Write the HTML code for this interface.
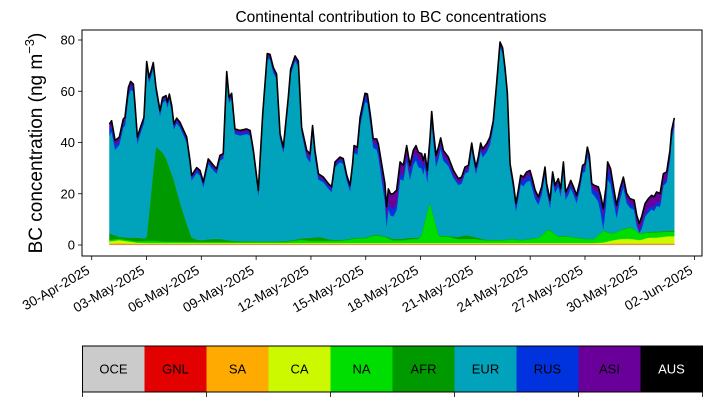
<!DOCTYPE html>
<html><head><meta charset="utf-8">
<style>
html,body{margin:0;padding:0;background:#fff;}
svg{display:block;font-family:"Liberation Sans","DejaVu Sans",sans-serif;}
</style></head>
<body>
<svg id="chart" width="711" height="402" viewBox="0 0 711 402" xmlns="http://www.w3.org/2000/svg">
<text x="391" y="22" font-size="15.5" text-anchor="middle">Continental contribution to BC concentrations</text>
<text transform="translate(42,143) rotate(-90)" font-size="19" text-anchor="middle">BC concentration (ng m<tspan dy="-8" font-size="13">−3</tspan><tspan dy="8">)</tspan></text>
<g id="plot"></g>
<g id="xaxis"></g>
<g id="yaxis"></g>
<rect x="82" y="30" width="620" height="226" fill="none" stroke="#000" stroke-width="1"/>
<g id="legend"></g>
</svg>
<script>
// ---- data ----
const totalDays = [0.97,1.09,1.28,1.51,1.73,1.82,2.01,2.13,2.28,2.37,2.50,2.64,2.86,3.01,3.14,3.25,3.37,3.52,3.74,3.88,4.07,4.14,4.25,4.38,4.50,4.65,4.83,5.20,5.38,5.47,5.75,5.93,6.11,6.38,6.66,6.84,7.02,7.20,7.39,7.52,7.66,7.84,8.12,8.48,8.67,8.85,9.12,9.36,9.61,9.76,9.94,10.12,10.31,10.49,10.76,10.89,11.13,11.31,11.49,11.77,11.95,12.09,12.22,12.41,12.68,12.95,13.13,13.32,13.59,13.77,13.96,14.14,14.28,14.36,14.54,14.69,14.96,15.09,15.27,15.41,15.60,15.69,15.87,16.05,16.14,16.24,16.36,16.51,16.69,16.88,17.06,17.24,17.42,17.60,17.75,17.88,18.06,18.15,18.24,18.37,18.52,18.61,18.70,18.85,18.98,19.10,19.25,19.52,19.80,20.07,20.25,20.43,20.62,20.80,20.89,21.03,21.16,21.29,21.40,21.62,21.80,21.98,22.16,22.35,22.49,22.62,22.75,22.90,23.08,23.22,23.35,23.48,23.63,23.81,23.99,24.14,24.27,24.45,24.63,24.81,24.90,25.09,25.23,25.36,25.45,25.54,25.67,25.82,25.94,26.09,26.22,26.37,26.54,26.73,26.87,27.00,27.13,27.24,27.37,27.50,27.73,27.86,28.00,28.15,28.24,28.40,28.59,28.73,28.92,29.10,29.28,29.46,29.69,29.83,29.97,30.10,30.29,30.47,30.65,30.78,30.92,31.11,31.29,31.47,31.65,31.74,31.89];
const totalVals = [47.2,48.5,40.8,42.1,49.2,49.8,61.5,63.8,62.8,55.0,42.1,45.3,49.8,71.6,65.4,67.9,71.2,61.5,52.4,57.6,58.3,55.7,58.9,54.4,47.2,49.5,47.9,42.1,33.0,27.2,30.2,29.1,24.6,33.6,31.1,29.8,35.0,35.6,67.7,57.6,59.2,45.3,44.7,45.3,44.7,36.9,21.4,51.1,74.7,74.4,69.3,66.7,43.4,38.2,57.6,68.6,73.8,71.8,45.9,36.9,35.6,46.6,36.9,27.8,26.5,24.0,22.7,32.4,34.3,33.7,27.2,23.3,31.7,38.8,38.2,49.8,59.2,58.9,49.8,41.4,41.4,39.4,31.7,24.0,15.0,21.9,19.9,20.1,21.4,32.4,31.1,38.8,31.1,36.9,38.8,36.2,35.6,33.0,35.6,29.1,42.1,52.1,44.7,35.0,38.2,41.8,36.9,34.3,29.1,25.9,26.5,30.4,31.1,39.8,35.6,30.4,34.3,39.8,37.5,39.5,42.1,48.5,62.8,79.2,77.0,69.3,59.5,31.7,24.0,16.2,21.4,27.2,26.5,28.5,29.1,25.2,21.4,18.8,22.7,30.4,24.0,17.5,28.5,23.3,24.6,25.9,22.0,32.4,20.7,22.7,25.2,22.7,19.4,25.2,31.1,31.7,38.2,35.0,24.0,23.3,22.7,19.4,14.2,22.7,32.4,29.8,21.4,15.5,22.0,26.5,20.1,18.1,17.5,11.7,8.4,11.0,16.2,18.1,19.4,18.8,20.7,20.1,27.8,28.5,36.9,44.7,49.6];
const compDays = [1,1.5,2,2.5,3,3.5,4,4.5,5,5.5,6,6.5,7,7.5,8,8.5,9,9.5,10,10.5,11,11.5,12,12.5,13,13.5,14,14.5,15,15.5,16,16.5,17,17.5,18,18.5,19,19.5,20,20.5,21,21.5,22,22.5,23,23.5,24,24.5,25,25.5,26,26.5,27,27.5,28,28.5,29,29.5,30,30.5,31,31.5,32];
const oceVals = [0.2,0.2,0.2,0.2,0.2,0.2,0.2,0.2,0.2,0.2,0.2,0.2,0.2,0.2,0.2,0.2,0.2,0.2,0.2,0.2,0.2,0.2,0.2,0.2,0.2,0.2,0.2,0.2,0.2,0.2,0.2,0.2,0.2,0.2,0.2,0.2,0.2,0.2,0.2,0.2,0.2,0.2,0.2,0.2,0.2,0.2,0.2,0.2,0.2,0.2,0.2,0.2,0.2,0.2,0.2,0.2,0.2,0.2,0.2,0.2,0.2,0.2,0.2];
const gnlVals = [0.1,0.1,0.1,0.1,0.1,0.1,0.1,0.1,0.1,0.1,0.1,0.1,0.1,0.1,0.1,0.1,0.1,0.1,0.1,0.1,0.1,0.1,0.1,0.1,0.1,0.1,0.1,0.1,0.1,0.1,0.1,0.1,0.1,0.1,0.1,0.1,0.1,0.1,0.1,0.1,0.1,0.1,0.1,0.1,0.1,0.1,0.1,0.1,0.1,0.1,0.1,0.1,0.1,0.1,0.1,0.1,0.1,0.1,0.1,0.1,0.1,0.1,0.1];
const saVals = [0.3,0.4,0.3,0.2,0.2,0.2,0.2,0.2,0.2,0.2,0.2,0.2,0.2,0.2,0.2,0.2,0.2,0.2,0.2,0.2,0.2,0.2,0.2,0.2,0.2,0.2,0.2,0.2,0.2,0.2,0.2,0.2,0.2,0.2,0.2,0.2,0.2,0.2,0.2,0.2,0.2,0.2,0.2,0.2,0.2,0.2,0.2,0.2,0.2,0.2,0.2,0.2,0.2,0.2,0.2,0.3,0.3,0.3,0.3,0.3,0.3,0.3,0.3];
const caVals = [0.8,1.2,0.8,0.4,0.3,0.3,0.3,0.3,0.3,0.3,0.3,0.3,0.3,0.3,0.3,0.3,0.3,0.3,0.3,0.3,0.3,0.3,0.3,0.3,0.3,0.3,0.3,0.3,0.3,0.3,0.3,0.3,0.3,0.3,0.3,0.3,0.3,0.3,0.3,0.3,0.3,0.3,0.3,0.3,0.3,0.3,0.3,0.3,0.3,0.3,0.3,0.3,0.3,0.3,0.5,1.2,1.8,1.8,1.3,2.3,2.3,2.8,2.8];
const naVals = [0.6,0.5,0.5,0.5,0.8,0.8,0.5,0.5,0.5,0.4,0.4,0.4,0.4,0.4,0.4,0.4,0.4,0.4,0.4,0.4,0.8,1.2,0.8,0.8,0.8,0.8,1.2,1.8,1.8,3.0,2.5,1.0,1.0,1.5,1.5,16.0,2.5,2.5,1.5,1.5,1.5,1.0,1.0,1.0,1.5,1.0,1.5,2.0,5.5,2.5,2.5,2.0,1.5,1.5,4.5,2.5,3.5,4.5,2.5,2.0,2.0,1.8,1.8];
const afrVals = [2.5,0.8,1.0,1.5,0.8,37.0,34.0,24.0,11.0,1.2,0.6,1.2,1.2,0.6,0.3,0.3,0.2,0.2,0.2,0.3,0.3,0.6,1.2,1.6,0.6,0.3,0.3,0.3,0.3,0.3,0.3,0.6,0.6,0.6,0.3,0.3,0.3,0.3,0.8,1.6,0.8,0.3,0.3,0.2,0.2,0.2,0.2,0.2,0.2,0.2,0.2,0.2,0.2,0.2,0.2,0.2,0.2,0.2,0.2,0.3,0.4,0.4,0.4];
const rusVals = [2.5,1.5,1.5,1.5,1.0,1.0,1.0,1.0,1.0,1.0,1.0,1.0,1.0,1.0,1.0,1.0,1.0,1.0,1.0,1.0,1.0,1.0,1.5,1.0,1.0,1.0,1.0,1.5,2.0,2.0,3.0,3.0,2.0,2.5,3.0,2.0,2.0,1.5,1.0,1.0,1.0,1.5,1.0,1.0,1.5,2.0,2.0,1.5,1.5,1.5,1.5,1.5,1.5,2.0,5.0,3.0,2.0,1.5,1.5,1.5,1.5,1.0,1.0];
const asiVals = [2.0,1.5,2.0,1.0,1.0,1.0,1.0,1.0,1.0,1.0,1.0,1.0,1.0,1.0,1.0,1.0,1.0,1.0,1.0,1.0,1.0,1.0,2.0,1.0,1.0,1.0,1.0,1.5,1.5,1.5,4.0,6.0,4.0,3.0,3.0,2.0,2.5,2.0,1.5,1.5,1.5,2.0,1.5,1.0,1.0,1.5,2.0,1.5,1.5,1.5,1.5,1.5,1.5,2.0,3.0,2.5,2.0,2.0,3.0,4.0,4.0,3.0,2.0];
const regionNames = ["OCE","GNL","SA","CA","NA","AFR","EUR","RUS","ASI","AUS"];
const regionColors = ["#cbcbcb","#e20000","#ffaa00","#ccf800","#00dd00","#009a00","#00a3bb","#0033dd","#680099","#000000"];
const xTickLabels = ["30-Apr-2025","03-May-2025","06-May-2025","09-May-2025","12-May-2025","15-May-2025","18-May-2025","21-May-2025","24-May-2025","27-May-2025","30-May-2025","02-Jun-2025"];
const xTickDays = [0,3,6,9,12,15,18,21,24,27,30,33];
const yTicks = [0,20,40,60,80];

// ---- scales ----
const NS="http://www.w3.org/2000/svg";
const X0=91.7, DAYPX=18.27, Y0=245, UNITPX=2.5625;
function xs(d){return X0+d*DAYPX;}
function ys(v){return Y0-v*UNITPX;}
function interp(days,vals,d){
  if(d<=days[0])return vals[0];
  for(let i=1;i<days.length;i++){ if(d<=days[i]){const t=(d-days[i-1])/(days[i]-days[i-1]);return vals[i-1]+t*(vals[i]-vals[i-1]);} }
  return vals[vals.length-1];
}
function mk(tag,attrs){const e=document.createElementNS(NS,tag);for(const k in attrs)e.setAttribute(k,attrs[k]);return e;}

const plot=document.getElementById('plot');
const lower=[oceVals,gnlVals,saVals,caVals,naVals,afrVals];
const n=totalDays.length;
let cum=new Array(n).fill(0);
const bounds=[cum.slice()];
for(let k=0;k<lower.length;k++){
  cum=cum.map((c,i)=>c+interp(compDays,lower[k],totalDays[i]));
  bounds.push(cum.slice());
}
const topT=totalVals.slice();
const asiB=totalVals.map((v,i)=>v-interp(compDays,asiVals,totalDays[i]));
const rusB=asiB.map((v,i)=>v-interp(compDays,rusVals,totalDays[i]));
bounds.push(rusB.map((v,i)=>Math.max(v,bounds[6][i])));
bounds.push(asiB.map((v,i)=>Math.max(v,bounds[7][i])));
bounds.push(topT.map((v,i)=>Math.max(v,bounds[8][i])));
bounds.push(topT.slice());
const layerNames=["oce-area","gnl-area","sa-area","ca-area","na-area","afr-area","eur-area","rus-area","asi-area","aus-area"];
for(let k=0;k<10;k++){
  const lo=bounds[k], hi=bounds[k+1];
  let d="M";
  for(let i=0;i<n;i++) d+=(i?"L":"")+xs(totalDays[i]).toFixed(2)+","+ys(hi[i]).toFixed(2);
  for(let i=n-1;i>=0;i--) d+="L"+xs(totalDays[i]).toFixed(2)+","+ys(lo[i]).toFixed(2);
  d+="Z";
  const p=mk('path',{d:d,fill:regionColors[k],stroke:regionColors[k],'stroke-width':'0.3'});
  
  
  plot.appendChild(p);
}
let ld="";
for(let i=0;i<n;i++) ld+=(i?"L":"M")+xs(totalDays[i]).toFixed(2)+","+ys(totalVals[i]).toFixed(2);
const line=mk('path',{d:ld,fill:'none',stroke:'#000','stroke-width':'1.6','stroke-linejoin':'round'});


plot.appendChild(line);

const xa=document.getElementById('xaxis');
for(let i=0;i<xTickDays.length;i++){
  const x=xs(xTickDays[i]);
  const t=mk('line',{x1:x,x2:x,y1:256,y2:260,stroke:'#000','stroke-width':'0.8'});
  
  
  xa.appendChild(t);
  const lb=mk('text',{transform:`translate(${x-1},${273}) rotate(-30)`,'font-size':'13.5','text-anchor':'end'});
  lb.textContent=xTickLabels[i];
  
  
  xa.appendChild(lb);
}
const ya=document.getElementById('yaxis');
for(const v of yTicks){
  const y=ys(v);
  const t=mk('line',{x1:78,x2:82,y1:y,y2:y,stroke:'#000','stroke-width':'0.8'});
  
  
  ya.appendChild(t);
  const lb=mk('text',{x:75,y:y+4.5,'font-size':'13','text-anchor':'end'});
  lb.textContent=v;
  
  
  ya.appendChild(lb);
}
const lg=document.getElementById('legend');
const LX=82.5, LW=62, LY=346, LH=46;
for(let k=0;k<10;k++){
  const r=mk('rect',{x:LX+k*LW,y:LY,width:LW,height:LH,fill:regionColors[k]});
  
  
  lg.appendChild(r);
  const tx=mk('text',{x:LX+k*LW+LW/2,y:LY+LH/2+4.5,'font-size':'13','text-anchor':'middle',fill:k===9?'#fff':'#000'});
  tx.textContent=regionNames[k];
  
  
  lg.appendChild(tx);
}
const fr=mk('rect',{x:LX,y:LY,width:LW*10,height:LH,fill:'none',stroke:'#000','stroke-width':'1'});


lg.appendChild(fr);
for(let k=0;k<=10;k+=2){
  const x=LX+k*LW;
  const t=mk('line',{x1:x,x2:x,y1:LY+LH,y2:LY+LH+5,stroke:'#000','stroke-width':'0.8'});
  
  
  lg.appendChild(t);
}
</script>
</body></html>
